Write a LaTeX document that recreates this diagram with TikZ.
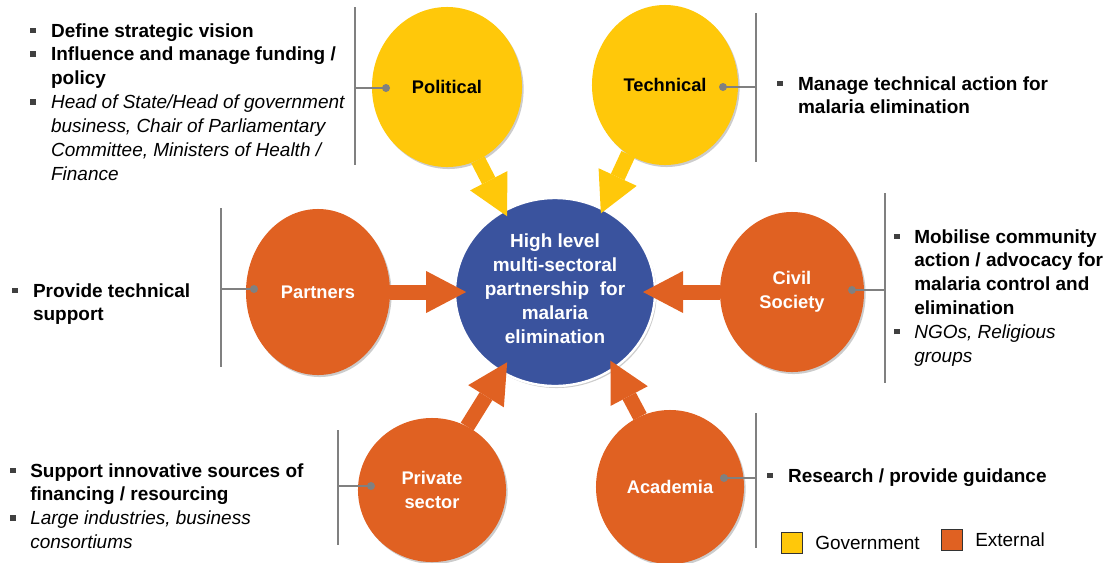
\documentclass[tikz,border=0pt]{standalone}
\usepackage{fontspec}
\setmainfont{Liberation Sans}
\usetikzlibrary{shapes.geometric, arrows.meta, shadows, positioning}

\definecolor{govyellow}{RGB}{255,200,10}
\definecolor{extorange}{RGB}{224,97,34}
\definecolor{hubblue}{RGB}{58,83,158}
\definecolor{leadgray}{RGB}{128,128,128}
\definecolor{bulgray}{RGB}{64,64,64}

\newcommand{\descfont}{\fontsize{13.5}{17}\selectfont}
\newcommand{\actorfont}{\fontsize{13}{17}\selectfont}
\newcommand{\sqbul}{\textcolor{bulgray}{\rule[0.22em]{0.28em}{0.28em}}}

\begin{document}
\begin{tikzpicture}[x=0.025cm, y=-0.025cm,
  actor/.style={ellipse, inner sep=0pt, outer sep=0pt, align=center, font=\actorfont\bfseries,
    drop shadow={shadow xshift=0.04cm, shadow yshift=-0.05cm, fill=black, opacity=0.2}},
  gov/.style={actor, fill=govyellow, text=black},
  ext/.style={actor, fill=extorange, text=white},
  flowarrow/.style={line width=0.375cm, -{Triangle[length=1.0cm, width=1.05cm, line width=0pt]}},
  leader/.style={draw=leadgray, line width=0.05cm},
  notes/.style={anchor=base west, inner sep=0pt, font=\descfont},
  legendbox/.style={draw=black!80, line width=0.8pt, minimum size=0.52cm, inner sep=0pt}]
\useasboundingbox (0,0) rectangle (1105,562);

% Hub
\node[actor, fill=hubblue, draw=white, line width=0.06cm, minimum width=5cm, minimum height=4.7cm] (hub) at (555,292) {};
\node[align=center, text=white, font=\descfont\bfseries] (hubLabel) at (555,289) {High level\\multi-sectoral\\partnership\ \ for\\malaria\\elimination};

% Government
\node[gov, minimum width=3.75cm, minimum height=4cm] (pol) at (447,87) {Political};
\node[gov, minimum width=3.65cm, minimum height=4cm] (tech) at (665,85) {Technical};

% External
\node[ext, minimum width=3.6cm, minimum height=4.15cm] (par) at (318,292) {Partners};
\node[ext, minimum width=3.6cm, minimum height=4cm] (civ) at (792,292) {Civil\\Society};
\node[ext, minimum width=3.7cm, minimum height=3.6cm] (pri) at (432,490) {Private\\sector};
\node[ext, minimum width=3.7cm, minimum height=3.85cm] (aca) at (670,487) {Academia};

% Arrows into the hub
\draw[flowarrow, govyellow, shorten >=-0.15cm] (pol.293) -- (hub.122);
\draw[flowarrow, govyellow, shorten >=-0.11cm] (tech.242) -- (hub.60);
\draw[flowarrow, extorange, shorten >=-0.28cm] (par.0) -- (hub.180);
\draw[flowarrow, extorange, shorten >=-0.3cm] (civ.180) -- (hub.0);
\draw[flowarrow, extorange, shorten >=-0.27cm] (pri.61) -- (hub.236);
\draw[flowarrow, extorange, shorten >=-0.2cm] (aca.113) -- (hub.308);

% Leaders to the role texts
\coordinate (polTop) at (355,7);
\coordinate (polBot) at (355,165);
\coordinate (polDot) at (386,88);
\draw[leader] (polTop) -- (polBot);
\draw[leader] (polDot) -- (polDot -| polTop);
\fill[leadgray] (polDot) circle (0.1cm);

\coordinate (techTop) at (756,13);
\coordinate (techBot) at (756,162);
\coordinate (techDot) at (723,87);
\draw[leader] (techTop) -- (techBot);
\draw[leader] (techDot) -- (techDot -| techTop);
\fill[leadgray] (techDot) circle (0.1cm);

\coordinate (parTop) at (221,208);
\coordinate (parBot) at (221,367);
\coordinate (parDot) at (254,289);
\draw[leader] (parTop) -- (parBot);
\draw[leader] (parDot) -- (parDot -| parTop);
\fill[leadgray] (parDot) circle (0.1cm);

\coordinate (civTop) at (885,193);
\coordinate (civBot) at (885,383);
\coordinate (civDot) at (852,290);
\draw[leader] (civTop) -- (civBot);
\draw[leader] (civDot) -- (civDot -| civTop);
\fill[leadgray] (civDot) circle (0.1cm);

\coordinate (priTop) at (338,430);
\coordinate (priBot) at (338,545);
\coordinate (priDot) at (371,486);
\draw[leader] (priTop) -- (priBot);
\draw[leader] (priDot) -- (priDot -| priTop);
\fill[leadgray] (priDot) circle (0.1cm);

\coordinate (acaTop) at (756,413);
\coordinate (acaBot) at (756,548);
\coordinate (acaDot) at (724,478);
\draw[leader] (acaTop) -- (acaBot);
\draw[leader] (acaDot) -- (acaDot -| acaTop);
\fill[leadgray] (acaDot) circle (0.1cm);

% Role texts
\node[notes] (polText) at (30,37) {\begin{tabular}[t]{@{}p{0.52cm}@{}l@{}}
  \sqbul & \textbf{Define strategic vision}\\
  \sqbul & \textbf{Influence and manage funding /}\\
         & \textbf{policy}\\
  \sqbul & \textit{Head of State/Head of government}\\
         & \textit{business, Chair of Parliamentary}\\
         & \textit{Committee, Ministers of Health /}\\
         & \textit{Finance}
\end{tabular}};
\node[notes] (techText) at (777,90) {\begin{tabular}[t]{@{}p{0.52cm}@{}l@{}}
  \sqbul & \textbf{Manage technical action for}\\
         & \textbf{malaria elimination}
\end{tabular}};
\node[notes] (parText) at (12,297) {\begin{tabular}[t]{@{}p{0.52cm}@{}l@{}}
  \sqbul & \textbf{Provide technical}\\
         & \textbf{support}
\end{tabular}};
\node[notes] (civText) at (894,243) {\begin{tabular}[t]{@{}p{0.5cm}@{}l@{}}
  \sqbul & \textbf{Mobilise community}\\
         & \textbf{action / advocacy for}\\
         & \textbf{malaria control and}\\
         & \textbf{elimination}\\
  \sqbul & \textit{NGOs, Religious}\\
         & \textit{groups}
\end{tabular}};
\node[notes] (priText) at (10,477) {\begin{tabular}[t]{@{}p{0.5cm}@{}l@{}}
  \sqbul & \textbf{Support innovative sources of}\\
         & \textbf{financing / resourcing}\\
  \sqbul & \textit{Large industries, business}\\
         & \textit{consortiums}
\end{tabular}};
\node[notes] (acaText) at (767,482) {\begin{tabular}[t]{@{}p{0.52cm}@{}l@{}}
  \sqbul & \textbf{Research / provide guidance}
\end{tabular}};

% Legend
\node[legendbox, fill=govyellow] (keyGov) at (792,543) {};
\node[right=0.3cm of keyGov, inner sep=0pt, font=\descfont] (keyGovText) {Government};
\node[legendbox, fill=extorange] (keyExt) at (952,540) {};
\node[right=0.3cm of keyExt, inner sep=0pt, font=\descfont] (keyExtText) {External};
\end{tikzpicture}
\end{document}
